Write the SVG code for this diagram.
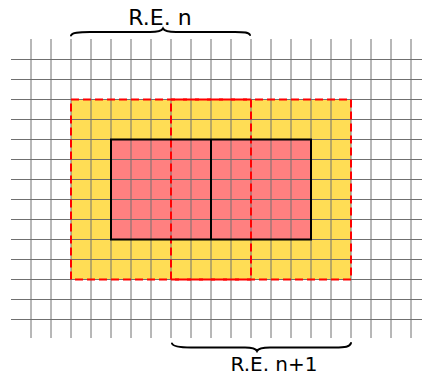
<svg xmlns="http://www.w3.org/2000/svg" width="422" height="377" viewBox="0 0 422 377">
<style>
.grid line{stroke:#707070;stroke-width:1}
.dash{fill:none;stroke:#ff0000;stroke-width:2;stroke-dasharray:8,4}
.brace{fill:none;stroke:#000;stroke-width:2;stroke-linecap:round}
.lbl{font-family:"DejaVu Sans",sans-serif;fill:#000}
</style>
<rect width="422" height="377" fill="#fff"/>
<g id="fills">
<rect x="71" y="99.5" width="280" height="180" fill="#ffdd55"/>
<rect x="111" y="139.5" width="200" height="100" fill="#ff8080"/>
</g>
<g id="grid" class="grid">
<line x1="11" y1="59.5" x2="422" y2="59.5"/>
<line x1="11" y1="79.5" x2="422" y2="79.5"/>
<line x1="11" y1="99.5" x2="422" y2="99.5"/>
<line x1="11" y1="119.5" x2="422" y2="119.5"/>
<line x1="11" y1="139.5" x2="422" y2="139.5"/>
<line x1="11" y1="159.5" x2="422" y2="159.5"/>
<line x1="11" y1="179.5" x2="422" y2="179.5"/>
<line x1="11" y1="199.5" x2="422" y2="199.5"/>
<line x1="11" y1="219.5" x2="422" y2="219.5"/>
<line x1="11" y1="239.5" x2="422" y2="239.5"/>
<line x1="11" y1="259.5" x2="422" y2="259.5"/>
<line x1="11" y1="279.5" x2="422" y2="279.5"/>
<line x1="11" y1="299.5" x2="422" y2="299.5"/>
<line x1="11" y1="319.5" x2="422" y2="319.5"/>
<line x1="31" y1="39" x2="31" y2="338"/>
<line x1="51" y1="39" x2="51" y2="338"/>
<line x1="71" y1="39" x2="71" y2="338"/>
<line x1="91" y1="39" x2="91" y2="338"/>
<line x1="111" y1="39" x2="111" y2="338"/>
<line x1="131" y1="39" x2="131" y2="338"/>
<line x1="151" y1="39" x2="151" y2="338"/>
<line x1="171" y1="39" x2="171" y2="338"/>
<line x1="191" y1="39" x2="191" y2="338"/>
<line x1="211" y1="39" x2="211" y2="338"/>
<line x1="231" y1="39" x2="231" y2="338"/>
<line x1="251" y1="39" x2="251" y2="338"/>
<line x1="271" y1="39" x2="271" y2="338"/>
<line x1="291" y1="39" x2="291" y2="338"/>
<line x1="311" y1="39" x2="311" y2="338"/>
<line x1="331" y1="39" x2="331" y2="338"/>
<line x1="351" y1="39" x2="351" y2="338"/>
<line x1="371" y1="39" x2="371" y2="338"/>
<line x1="391" y1="39" x2="391" y2="338"/>
<line x1="411" y1="39" x2="411" y2="338"/>
</g>
<g id="re-n">
<rect class="dash" x="71" y="99.5" width="180" height="180"/>
</g>
<g id="re-n1">
<rect class="dash" x="171" y="99.5" width="180" height="180"/>
</g>
<g id="core">
<rect x="111" y="139.5" width="200" height="100" fill="none" stroke="#000" stroke-width="2"/>
<line x1="211" y1="139.5" x2="211" y2="239.5" stroke="#000" stroke-width="2"/>
</g>
<g id="brace-top">
<path class="brace" d="M71,35.5 C72,32.5 78,32 90,32 L150,32 C158,32 162,30.5 163,28.5 C164,30.5 168,32 176,32 L235,32 C245,32 249,32.5 250,35"/>
<text class="lbl" x="160" y="25" font-size="22" text-anchor="middle">R.E. n</text>
</g>
<g id="brace-bottom">
<path class="brace" d="M172,343.5 C173,346.5 179,347.5 191,347.5 L245,347.5 C252,347.5 256,349 257,351 C258,349 262,347.5 270,347.5 L335,347.5 C345,347.5 350,347 351,343"/>
<text class="lbl" x="274" y="371" font-size="20" text-anchor="middle">R.E. n+1</text>
</g>
</svg>
